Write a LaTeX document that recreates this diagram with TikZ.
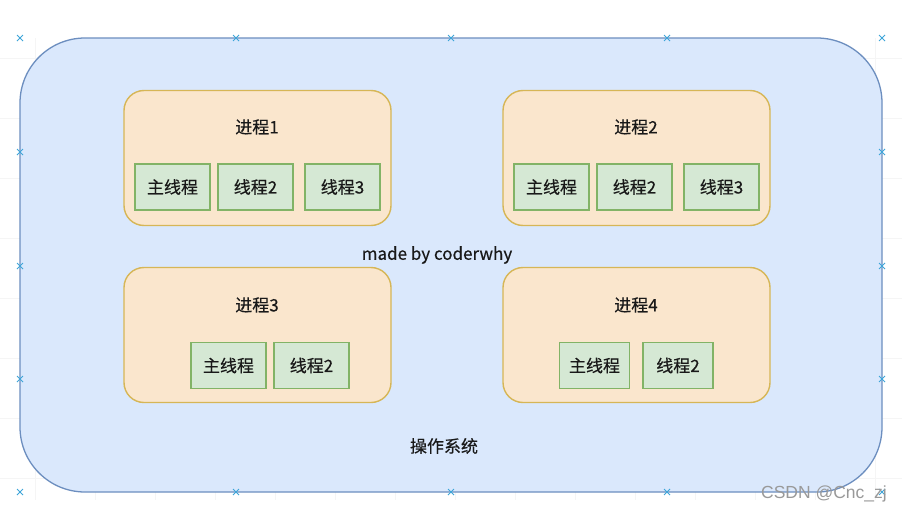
\documentclass[tikz,border=0pt]{standalone}
\usepackage{fontspec}
\setmainfont{Noto Sans CJK SC}[FakeBold=0.4]
\newfontfamily\wmfont{Liberation Sans}
\usepackage{tikz}
\usetikzlibrary{positioning}

\definecolor{osfill}{HTML}{DAE8FC}
\definecolor{osline}{HTML}{6C8EBF}
\definecolor{procfill}{HTML}{FAE6CD}
\definecolor{procline}{HTML}{D6B656}
\definecolor{thrfill}{HTML}{D5E8D4}
\definecolor{thrline}{HTML}{82B366}
\definecolor{handle}{HTML}{3DA5D9}

\tikzset{
  osbox/.style={draw=osline,fill=osfill,line width=1.3pt,rounded corners=65pt},
  procbox/.style={draw=procline,fill=procfill,line width=1.4pt,rounded corners=20pt,
    minimum width=267pt,minimum height=135pt,inner sep=0pt},
  thrbox/.style={draw=thrline,fill=thrfill,line width=1.4pt,
    minimum width=75pt,minimum height=46pt,inner sep=0pt,font=\fontsize{17}{19}\selectfont,text=black!90},
  title/.style={font=\fontsize{17}{19}\selectfont,text=black!90},
  xmark/.style={draw=handle,line width=1pt}
}

\begin{document}
\begin{tikzpicture}[x=1pt,y=-1pt]
      \useasboundingbox (0,0) rectangle (902,514);

      % faint grid behind the canvas
      \foreach \x in {35,95,155,215,275,335,395,455,515,575,635,695,755,815,875}
        \draw[black!4,line width=0.8pt] (\x,38) -- (\x,500);
      \foreach \y in {58,118,178,238,298,358,418,478}
        \draw[black!4,line width=0.8pt] (0,\y) -- (902,\y);

      \draw[osbox] (20,38) rectangle (882,492);

      % processes
      \node[procbox] (p1) at (257.5,158) {};
      \node[procbox] (p2) at (636.5,158) {};
      \node[procbox] (p3) at (257.5,335) {};
      \node[procbox] (p4) at (636.5,335) {};

      \node[title] (t1) at (257,127) {进程1};
      \node[title] (t2) at (636,127) {进程2};
      \node[title] (t3) at (257,305) {进程3};
      \node[title] (t4) at (636,305) {进程4};

      % threads
      \node[thrbox] (p1m) at (172.5,187) {主线程};
      \node[thrbox] (p1b) at (255.5,187) {线程2};
      \node[thrbox] (p1c) at (342.5,187) {线程3};

      \node[thrbox] (p2m) at (551.5,187) {主线程};
      \node[thrbox] (p2b) at (634.5,187) {线程2};
      \node[thrbox] (p2c) at (721.5,187) {线程3};

      \node[thrbox] (p3m) at (228.5,365.5) {主线程};
      \node[thrbox] (p3b) at (311.5,365.5) {线程2};

      \node[thrbox,minimum width=70pt] (p4m) at (594.5,365.5) {主线程};
      \node[thrbox,minimum width=70pt] (p4b) at (678,365.5) {线程2};

      \node[title] (made) at (437,255) {made by coderwhy};
      \node[title] (os) at (444,446) {操作系统};

      % selection handles
      \foreach \x/\y in {20/38,236/38,451/38,667/38,882/38,
                         20/152,20/266,20/379,20/492,
                         882/152,882/266,882/379,
                         236/492,451/492,667/492,882/492}{
        \draw[xmark] (\x-3,\y-3) -- (\x+3,\y+3);
        \draw[xmark] (\x-3,\y+3) -- (\x+3,\y-3);
      }

      \node[font=\wmfont\fontsize{17.5}{19}\selectfont,text=black!40] (mark) at (824,494) {CSDN @Cnc\_zj};
\end{tikzpicture}
\end{document}
